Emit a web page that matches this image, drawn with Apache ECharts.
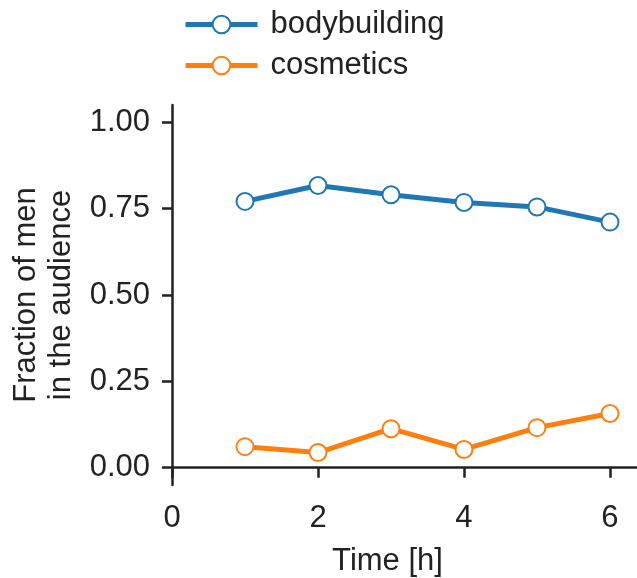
<!DOCTYPE html>
<html>
<head>
<meta charset="utf-8">
<script src="https://cdn.jsdelivr.net/npm/echarts@6/dist/echarts.min.js"></script>
<style>
  html, body { margin: 0; padding: 0; background: #fff; }
  #chart { width: 637px; height: 578px; }
</style>
</head>
<body>
<div id="chart"></div>
<script>
// data
const hours = [1, 2, 3, 4, 5, 6];
const bodybuilding = [0.771, 0.817, 0.790, 0.768, 0.755, 0.711];
const cosmetics = [0.061, 0.044, 0.113, 0.053, 0.116, 0.157];
const xTicks = [0, 2, 4, 6];
const yTicks = [0, 0.25, 0.5, 0.75, 1.0];

const font = 'Liberation Sans, Arial, Helvetica, sans-serif';
const ink = '#222';

let chart = echarts.init(document.getElementById('chart'));

function pairs(ys) {
  return hours.map((h, i) => [h, ys[i]]);
}

let option = {
  animation: false,
  legend: {
    orient: 'vertical',
    left: 178,
    top: 4,
    itemWidth: 72,
    itemHeight: 22,
    itemGap: 10,
    lineStyle: { width: 5 },
    itemStyle: { borderWidth: 3 },
    textStyle: { fontFamily: font, fontSize: 31, color: ink, padding: [0, 0, 0, 8] },
    data: ['bodybuilding', 'cosmetics']
  },
  // v6 would otherwise shrink the grid to keep the axis names inside
  grid: { left: 172, right: 0, top: 105, bottom: 93, containLabel: false, outerBoundsMode: 'none' },
  xAxis: {
    type: 'value',
    min: 0,
    max: 6.37,
    splitLine: { show: false },
    axisLine: { lineStyle: { color: ink, width: 2.5 } },
    axisTick: { show: true, length: 10, lineStyle: { color: ink, width: 2.5 }, customValues: xTicks },
    axisLabel: { customValues: xTicks, fontFamily: font, fontSize: 31, color: ink, margin: 18 },
    name: 'Time [h]',
    nameLocation: 'middle',
    nameGap: 61,
    nameTextStyle: { fontFamily: font, fontSize: 31, color: ink, padding: [0, 34, 0, 0] }
  },
  yAxis: {
    type: 'value',
    min: -0.05,
    max: 1.05,
    splitLine: { show: false },
    axisLine: { show: true, lineStyle: { color: ink, width: 2.5 } },
    axisTick: { show: true, length: 10, lineStyle: { color: ink, width: 2.5 }, customValues: yTicks },
    axisLabel: {
      customValues: yTicks,
      formatter: v => v.toFixed(2),
      fontFamily: font, fontSize: 31, color: ink, margin: 22
    },
    name: 'Fraction of men\nin the audience',
    nameLocation: 'middle',
    nameGap: 90,
    nameRotate: 90,
    nameTextStyle: { fontFamily: font, fontSize: 31, color: ink, lineHeight: 35 }
  },
  series: [
    {
      name: 'bodybuilding',
      type: 'line',
      data: pairs(bodybuilding),
      color: '#1f77b4',
      symbol: 'emptyCircle',
      symbolSize: 17,
      lineStyle: { width: 5 },
      itemStyle: { borderWidth: 3 }
    },
    {
      name: 'cosmetics',
      type: 'line',
      data: pairs(cosmetics),
      color: '#ff7f0e',
      symbol: 'emptyCircle',
      symbolSize: 17,
      lineStyle: { width: 5 },
      itemStyle: { borderWidth: 3 }
    }
  ]
};

chart.setOption(option);
</script>
</body>
</html>
